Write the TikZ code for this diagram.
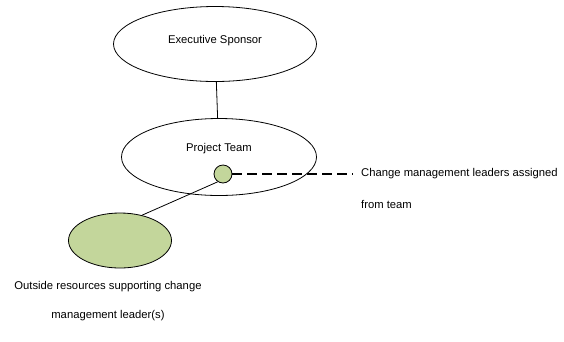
\documentclass[tikz,border=0pt]{standalone}
\usepackage{fontspec}
\setmainfont{Liberation Sans}
\usepackage{tikz}
\usetikzlibrary{shapes.geometric, positioning, calc}

\definecolor{leafgreen}{HTML}{C3D69B}

\begin{document}
\begin{tikzpicture}[
    x=1bp, y=-1bp,
    every node/.style={font=\fontsize{11.3}{29}\selectfont},
    role/.style={ellipse, draw, line width=0.8bp, inner sep=0pt},
    link/.style={line width=0.8bp},
    assign/.style={line width=2.4bp, dash pattern=on 10bp off 5bp},
]
    \useasboundingbox (0,0) rectangle (564,341);

    \node[role, minimum width=203bp, minimum height=75bp] (sponsor) at (215,44) {};
    \node at ($(sponsor)+(0,-3)$) {Executive Sponsor};

    \node[role, minimum width=195bp, minimum height=77bp] (team) at (219,157) {};
    \node at ($(team)+(0,-8)$) {Project Team};

    \node[role, fill=leafgreen, minimum size=18bp] (leader) at (223,174) {};
    \node[role, fill=leafgreen, minimum width=103bp, minimum height=55bp] (outside) at (120,240.5) {};

    \draw[link] (sponsor) -- (team);
    \draw[link] (leader.236) -- (outside.49);

    \node[anchor=west, inner sep=0pt] (note) at (361,174) {Change management leaders assigned};
    \node[anchor=west, inner sep=0pt] (note2) at (361,204) {from team};
    \draw[assign, shorten >=8bp] (leader) -- (note.west);

    \node[align=center, inner sep=0pt] (support) at (108,301.5)
        {Outside resources supporting change\\management leader(s)};
\end{tikzpicture}
\end{document}
